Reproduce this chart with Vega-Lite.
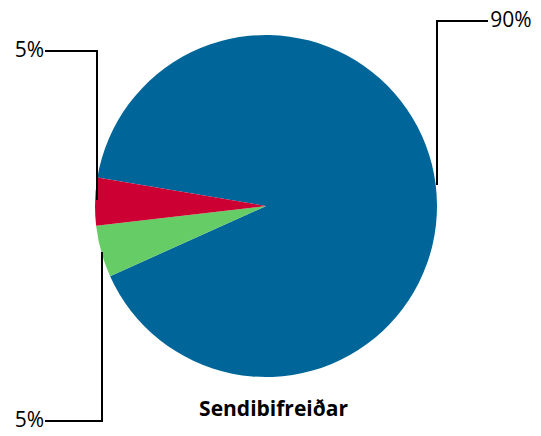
{
  "$schema": "https://vega.github.io/schema/vega-lite/v6.json",
  "width": 541,
  "height": 436,
  "padding": 0,
  "autosize": {"type": "none"},
  "background": "white",
  "config": {"view": {"stroke": null}},
  "title": {
    "text": "Sendibifreiðar",
    "orient": "bottom",
    "anchor": "middle",
    "offset": -37,
    "font": "Open Sans",
    "fontSize": 21,
    "fontWeight": "bold",
    "color": "black",
    "dx": 3
  },
  "datasets": {
    "slices": [
      {"category": "Flokkur 1", "rank": 1, "value": 90.6, "label": "90%"},
      {"category": "Flokkur 2", "rank": 2, "value": 4.9, "label": "5%"},
      {"category": "Flokkur 3", "rank": 3, "value": 4.5, "label": "5%"}
    ],
    "leaders": [
      {"leader": "Flokkur 1", "step": 1, "lx": 1.0, "ly": 0.1228},
      {"leader": "Flokkur 1", "step": 2, "lx": 1.0, "ly": 1.0819},
      {"leader": "Flokkur 1", "step": 3, "lx": 1.2982, "ly": 1.0819},
      {"leader": "Flokkur 3", "step": 1, "lx": -0.9883, "ly": 0.0351},
      {"leader": "Flokkur 3", "step": 2, "lx": -0.9883, "ly": 0.9064},
      {"leader": "Flokkur 3", "step": 3, "lx": -1.2924, "ly": 0.9064},
      {"leader": "Flokkur 2", "step": 1, "lx": -0.9591, "ly": -0.269},
      {"leader": "Flokkur 2", "step": 2, "lx": -0.9591, "ly": -1.2573},
      {"leader": "Flokkur 2", "step": 3, "lx": -1.2924, "ly": -1.2573}
    ],
    "labels": [
      {"category": "Flokkur 1", "label": "90%", "tx": 1.433, "ty": 1.0819},
      {"category": "Flokkur 3", "label": "5%", "tx": -1.383, "ty": 0.9064},
      {"category": "Flokkur 2", "label": "5%", "tx": -1.383, "ty": -1.2573}
    ]
  },
  "layer": [
    {
      "data": {"name": "slices"},
      "mark": {"type": "arc", "outerRadius": 171, "stroke": null},
      "encoding": {
        "x": {"datum": 0, "type": "quantitative", "scale": {"domain": [-1.5556, 1.6082], "nice": false, "zero": false}, "axis": null},
        "y": {"datum": 0, "type": "quantitative", "scale": {"domain": [-1.345, 1.2047], "nice": false, "zero": false}, "axis": null},
        "theta": {"field": "value", "type": "quantitative", "stack": true, "scale": {"range": [4.88, 11.163]}},
        "order": {"field": "rank", "type": "quantitative"},
        "color": {
          "field": "category",
          "type": "nominal",
          "scale": {"domain": ["Flokkur 1", "Flokkur 2", "Flokkur 3"], "range": ["#006699", "#66CC66", "#CC0033"]},
          "legend": null
        }
      }
    },
    {
      "data": {"name": "leaders"},
      "mark": {"type": "line", "color": "black", "strokeWidth": 2},
      "encoding": {
        "x": {"field": "lx", "type": "quantitative"},
        "y": {"field": "ly", "type": "quantitative"},
        "detail": {"field": "leader"},
        "order": {"field": "step", "type": "quantitative"}
      }
    },
    {
      "data": {"name": "labels"},
      "mark": {"type": "text", "font": "Open Sans", "fontSize": 21, "align": "center", "baseline": "middle", "color": "black"},
      "encoding": {
        "x": {"field": "tx", "type": "quantitative"},
        "y": {"field": "ty", "type": "quantitative"},
        "text": {"field": "label"}
      }
    }
  ]
}
